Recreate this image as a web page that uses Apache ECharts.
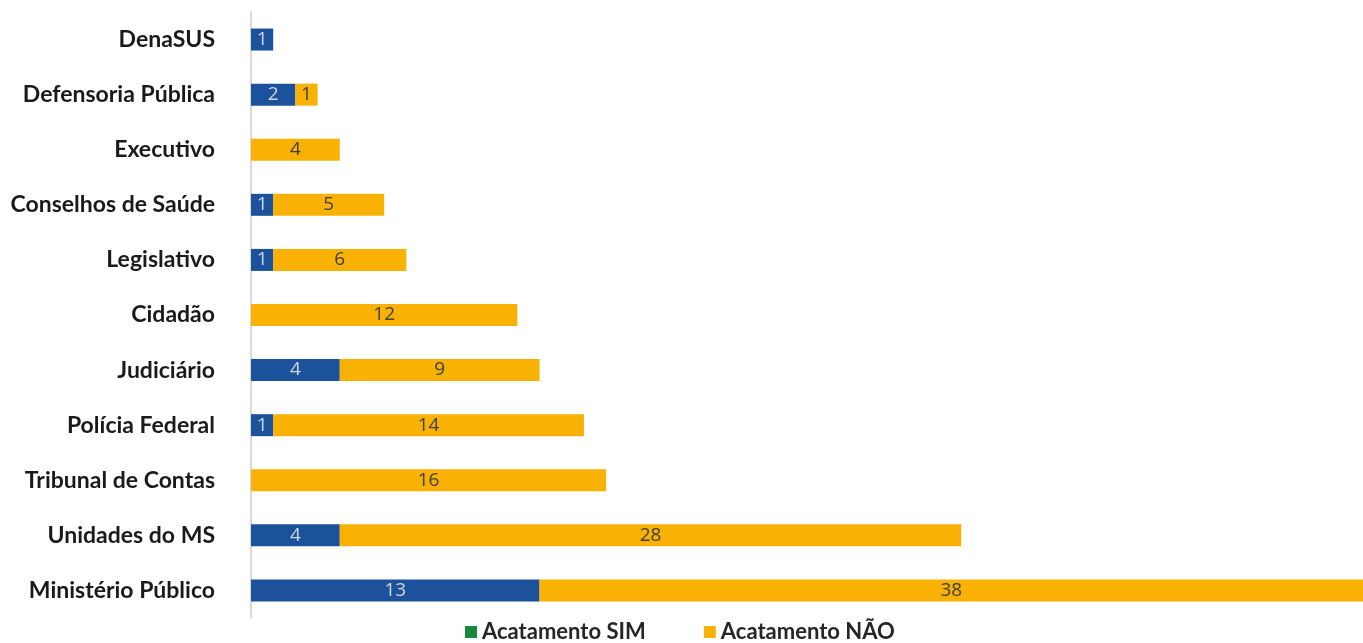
<!DOCTYPE html>
<html><head><meta charset="utf-8">
<script src="https://cdn.jsdelivr.net/npm/echarts@6/dist/echarts.min.js"></script>
<style>html,body{margin:0;padding:0;background:#fff}#c{width:1363px;height:643px}</style>
</head><body><div id="c"></div>
<script>
const categories = ['DenaSUS','Defensoria Pública','Executivo','Conselhos de Saúde','Legislativo','Cidadão','Judiciário','Polícia Federal','Tribunal de Contas','Unidades do MS','Ministério Público'];
const simValues = [1,2,0,1,1,0,4,1,0,4,13];
const naoValues = [0,1,4,5,6,12,9,14,16,28,38];
const seriesNames = ['Acatamento SIM','Acatamento NÃO'];

const chart = echarts.init(document.getElementById('c'));
const fmt = p => p.value ? String(p.value) : '';
chart.setOption({
  animation:false,
  grid:{left:251,right:0,top:12,bottom:25,containLabel:false},
  xAxis:{type:'value',min:0,max:50.1,show:false},
  yAxis:{type:'category',data:categories,inverse:true,
    axisLine:{show:true,lineStyle:{color:'#d9d9d9',width:2}},
    axisTick:{show:false},
    axisLabel:{margin:36,fontFamily:'Lato',fontWeight:'bold',fontSize:23,color:'#1a1a1a'}},
  legend:{bottom:-5,left:460,itemGap:58,itemWidth:12,itemHeight:12,icon:'rect',
    textStyle:{fontFamily:'Lato',fontWeight:'bold',fontSize:22,color:'#262626'},
    data:[{name:seriesNames[0],itemStyle:{color:'#168a3a'}},{name:seriesNames[1],itemStyle:{color:'#f9b104'}}]},
  series:[
    {name:seriesNames[0],type:'bar',stack:'a',data:simValues,barWidth:22,
     itemStyle:{color:'#1c519b'},
     label:{show:true,position:'inside',formatter:fmt,color:'#d0d7e4',fontFamily:'Open Sans',fontSize:19}},
    {name:seriesNames[1],type:'bar',stack:'a',data:naoValues,barWidth:22,
     itemStyle:{color:'#f9b104'},
     label:{show:true,position:'inside',formatter:fmt,color:'#404040',fontFamily:'Open Sans',fontSize:19}}
  ]
});
</script></body></html>
